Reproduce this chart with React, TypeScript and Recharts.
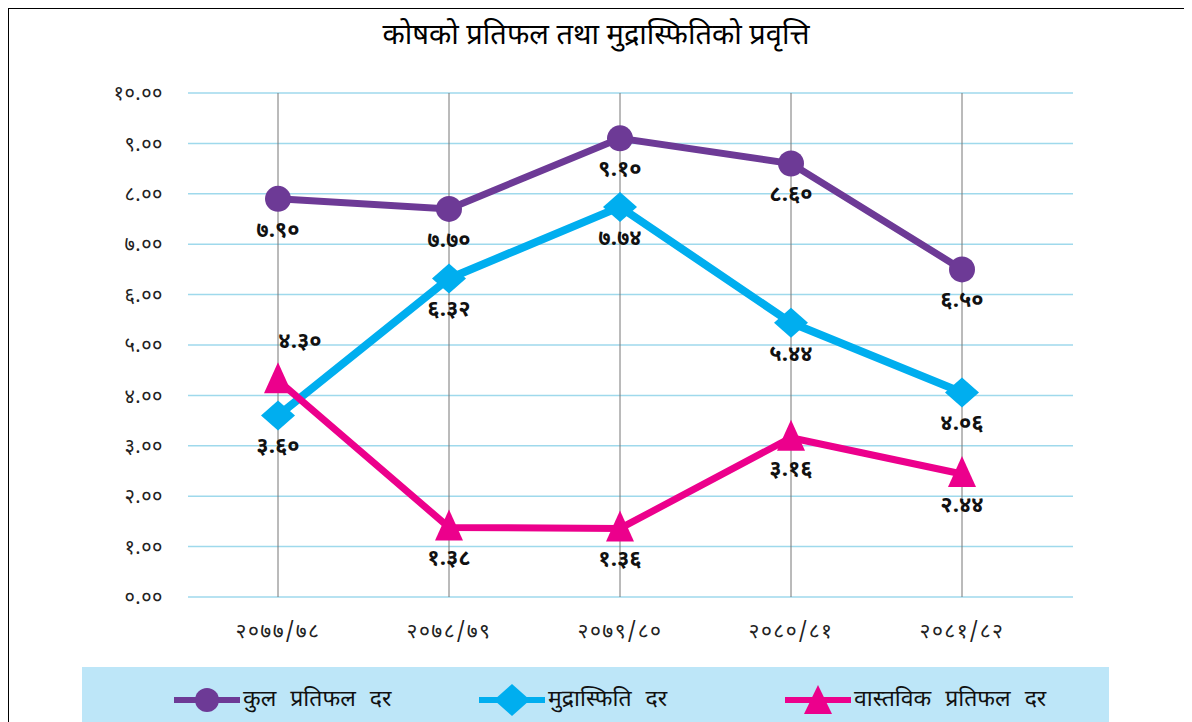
import React from "react";
import { LineChart, Line, XAxis, YAxis, CartesianGrid, LabelList, ReferenceLine } from "recharts";

const years = ["२०७७/७८", "२०७८/७९", "२०७९/८०", "२०८०/८१", "२०८१/८२"];
const totalReturn = [7.9, 7.7, 9.1, 8.6, 6.5];
const inflation = [3.6, 6.32, 7.74, 5.44, 4.06];
const realReturn = [4.3, 1.38, 1.36, 3.16, 2.44];
const yTicks = [0, 1, 2, 3, 4, 5, 6, 7, 8, 9, 10];

const seriesNames = ["कुल प्रतिफल दर", "मुद्रास्फिति दर", "वास्तविक प्रतिफल दर"];

const PURPLE = "#6d3a96";
const BLUE = "#00aeef";
const PINK = "#ec008c";
const FONT = "'Noto Sans Devanagari', 'Lohit Devanagari', 'Noto Sans', sans-serif";

const NE_DIGITS = "०१२३४५६७८९";
const toNe = (v: number) =>
  v.toFixed(2).replace(/[0-9]/g, (d) => NE_DIGITS[Number(d)]);

const data = years.map((year, i) => ({
  year,
  total: totalReturn[i],
  inflation: inflation[i],
  real: realReturn[i],
}));

const CircleDot = (props: any) => (
  <circle key={props.index} cx={props.cx} cy={props.cy} r={13} fill={PURPLE} />
);

const DiamondDot = (props: any) => {
  const { cx, cy } = props;
  return (
    <polygon
      key={props.index}
      points={`${cx},${cy - 15} ${cx + 17},${cy} ${cx},${cy + 15} ${cx - 17},${cy}`}
      fill={BLUE}
    />
  );
};

const TriangleDot = (props: any) => {
  const { cx, cy } = props;
  return (
    <polygon
      key={props.index}
      points={`${cx},${cy - 18} ${cx + 14},${cy + 13} ${cx - 14},${cy + 13}`}
      fill={PINK}
    />
  );
};

const makeLabel = (above: number[]) => (props: any) => {
  const { x, y, value, index } = props;
  const up = above.includes(index);
  return (
    <text
      key={index}
      x={up ? x + 22 : x}
      y={up ? y - 38 : y + 32}
      textAnchor="middle"
      dominantBaseline="middle"
      fontFamily={FONT}
      fontWeight="bold"
      fontSize={22}
      fill="#111"
    >
      {toNe(value)}
    </text>
  );
};

const LegendIcon = ({ kind, color }: { kind: string; color: string }) => (
  <svg width={66} height={34} style={{ display: "block" }}>
    <line x1={0} y1={17} x2={66} y2={17} stroke={color} strokeWidth={6} />
    {kind === "circle" && <circle cx={33} cy={17} r={12} fill={color} />}
    {kind === "diamond" && (
      <polygon points="33,1 51,17 33,33 15,17" fill={color} />
    )}
    {kind === "triangle" && <polygon points="33,2 47,31 19,31" fill={color} />}
  </svg>
);

const legendItems = [
  { kind: "circle", color: PURPLE, left: 92 },
  { kind: "diamond", color: BLUE, left: 397 },
  { kind: "triangle", color: PINK, left: 703 },
];

export default function App() {
  return (
    <div
      style={{
        position: "relative",
        width: 1192,
        height: 722,
        margin: "-8px 0 0 -8px",
        overflow: "hidden",
        fontFamily: FONT,
        background: "#fff",
      }}
    >
      <div style={{ position: "absolute", left: 5, top: 5, width: 1187, height: 4, background: "#000" }} />
      <div style={{ position: "absolute", left: 5, top: 5, width: 4, height: 717, background: "#000" }} />
      <div
        style={{
          position: "absolute",
          left: 0,
          top: 18,
          width: 1192,
          textAlign: "center",
          fontSize: 29,
          fontWeight: 400,
          color: "#000",
        }}
      >
        कोषको प्रतिफल तथा मुद्रास्फितिको प्रवृत्ति
      </div>
      <div style={{ position: "absolute", left: 8, top: 9 }}>
        <LineChart
          width={1170}
          height={660}
          data={data}
          margin={{ top: 84, right: 105, left: 120, bottom: 42 }}
        >
          <CartesianGrid horizontal vertical={false} stroke="#9fd9ec" strokeWidth={1.5} />
          {years.map((y) => (
            <ReferenceLine key={y} x={y} stroke="#777" strokeWidth={1} />
          ))}
          <XAxis
            dataKey="year"
            axisLine={false}
            tickLine={false}
            padding={{ left: 90, right: 111 }}
            tick={{ fontFamily: FONT, fontSize: 21, fill: "#222", letterSpacing: 1.5 }}
            tickMargin={20}
          />
          <YAxis
            domain={[0, 10]}
            ticks={yTicks}
            width={60}
            axisLine={false}
            tickLine={false}
            tickMargin={19}
            tickFormatter={toNe}
            tick={{ fontFamily: FONT, fontSize: 20, fill: "#222", letterSpacing: 0.5 }}
          />
          <Line
            dataKey="total"
            name={seriesNames[0]}
            stroke={PURPLE}
            strokeWidth={7}
            dot={CircleDot}
            isAnimationActive={false}
          >
            <LabelList dataKey="total" content={makeLabel([])} />
          </Line>
          <Line
            dataKey="inflation"
            name={seriesNames[1]}
            stroke={BLUE}
            strokeWidth={8}
            dot={DiamondDot}
            isAnimationActive={false}
          >
            <LabelList dataKey="inflation" content={makeLabel([])} />
          </Line>
          <Line
            dataKey="real"
            name={seriesNames[2]}
            stroke={PINK}
            strokeWidth={7}
            dot={TriangleDot}
            isAnimationActive={false}
          >
            <LabelList dataKey="real" content={makeLabel([0])} />
          </Line>
        </LineChart>
      </div>
      <div
        style={{
          position: "absolute",
          left: 82,
          top: 667,
          width: 1027,
          height: 60,
          background: "#bde6f8",
        }}
      >
        {legendItems.map((item, i) => (
          <div
            key={item.kind}
            style={{
              position: "absolute",
              left: item.left,
              top: 16,
              display: "flex",
              alignItems: "center",
              gap: 3,
            }}
          >
            <LegendIcon kind={item.kind} color={item.color} />
            <span style={{ fontSize: 23, color: "#111", wordSpacing: 8 }}>
              {seriesNames[i]}
            </span>
          </div>
        ))}
      </div>
    </div>
  );
}
